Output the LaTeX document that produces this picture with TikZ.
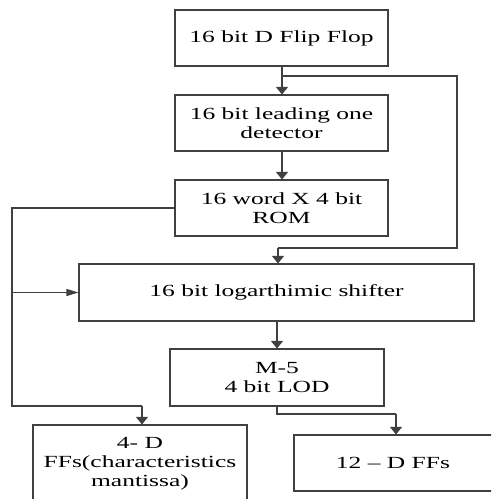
\documentclass[tikz,border=0pt]{standalone}
\usepackage{fontspec}
\setmainfont{Liberation Serif}
\usepackage{graphicx}
\usetikzlibrary{arrows.meta}
\newcommand\sx[1]{\scalebox{1.5}[1]{#1}}
\begin{document}
\begin{tikzpicture}[x=1pt,y=-1pt,
  line/.style={draw=black!75,line width=1.1pt},
  blk/.style={line,rectangle,inner sep=0pt,align=center,
    font=\fontsize{17}{19}\selectfont},
  txt/.style={inner sep=0pt,align=center,font=\fontsize{17}{19}\selectfont},
  varr/.style={line,-{Triangle[width=12pt,length=7.5pt]}},
  harr/.style={line,-{Triangle[width=7pt,length=12pt]}}]
\useasboundingbox (0,0) rectangle (491,499);
\clip (0,0) rectangle (491,499);
\node[blk,minimum width=213pt,minimum height=56pt] (b1) at (281.5,38) {\sx{16 bit D Flip Flop}};
\node[blk,minimum width=213pt,minimum height=56pt] (b2) at (281.5,123) {\sx{16 bit leading one}\\\sx{detector}};
\node[blk,minimum width=213pt,minimum height=56pt] (b3) at (281.5,208) {\sx{16 word X 4 bit}\\\sx{ROM}};
\node[blk,minimum width=395pt,minimum height=57pt] (b4) at (276.5,292.5) {\sx{16 bit logarthimic shifter}};
\node[blk,minimum width=214pt,minimum height=57pt] (b5) at (277,377.5) {\sx{M-5}\\\sx{4 bit LOD}};
\node[blk,minimum width=214pt,minimum height=95pt] (b6) at (140,472.5) {};
\node[txt] (b6t) at (140,464) {\sx{4- D}\\\sx{FFs(characteristics}\\\sx{mantissa)}};
\node[blk,minimum width=204pt,minimum height=56pt] (b7) at (396,463) {};
\node[txt] (b7t) at (393,463) {\sx{12 – D FFs}};
\coordinate (t1) at (282,76);
\coordinate (r1) at (457,76);
\coordinate (r2) at (457,248);
\coordinate (r3) at (278,248);
\coordinate (l1) at (12,208);
\coordinate (l2) at (12,406);
\coordinate (l3) at (142,406);
\coordinate (m1) at (277,414);
\coordinate (m2) at (396,414);
\draw[varr] (b1.south -| t1) -- (b2.north -| t1);
\draw[line] (t1) -- (r1) -- (r2) -- (r3);
\draw[varr] (r3) -- (r3 |- b4.north);
\draw[varr] (b2.south -| t1) -- (b3.north -| t1);
\draw[line] (b3.west) -- (l1) -- (l2) -- (l3);
\draw[varr] (l3) -- (l3 |- b6.north);
\draw[harr] (l1 |- b4.west) -- (b4.west);
\draw[varr] (b4.south -| b5.north) -- (b5.north);
\draw[line] (b5.south) -- (m1) -- (m2);
\draw[varr] (m2) -- (m2 |- b7.north);
\end{tikzpicture}
\end{document}
